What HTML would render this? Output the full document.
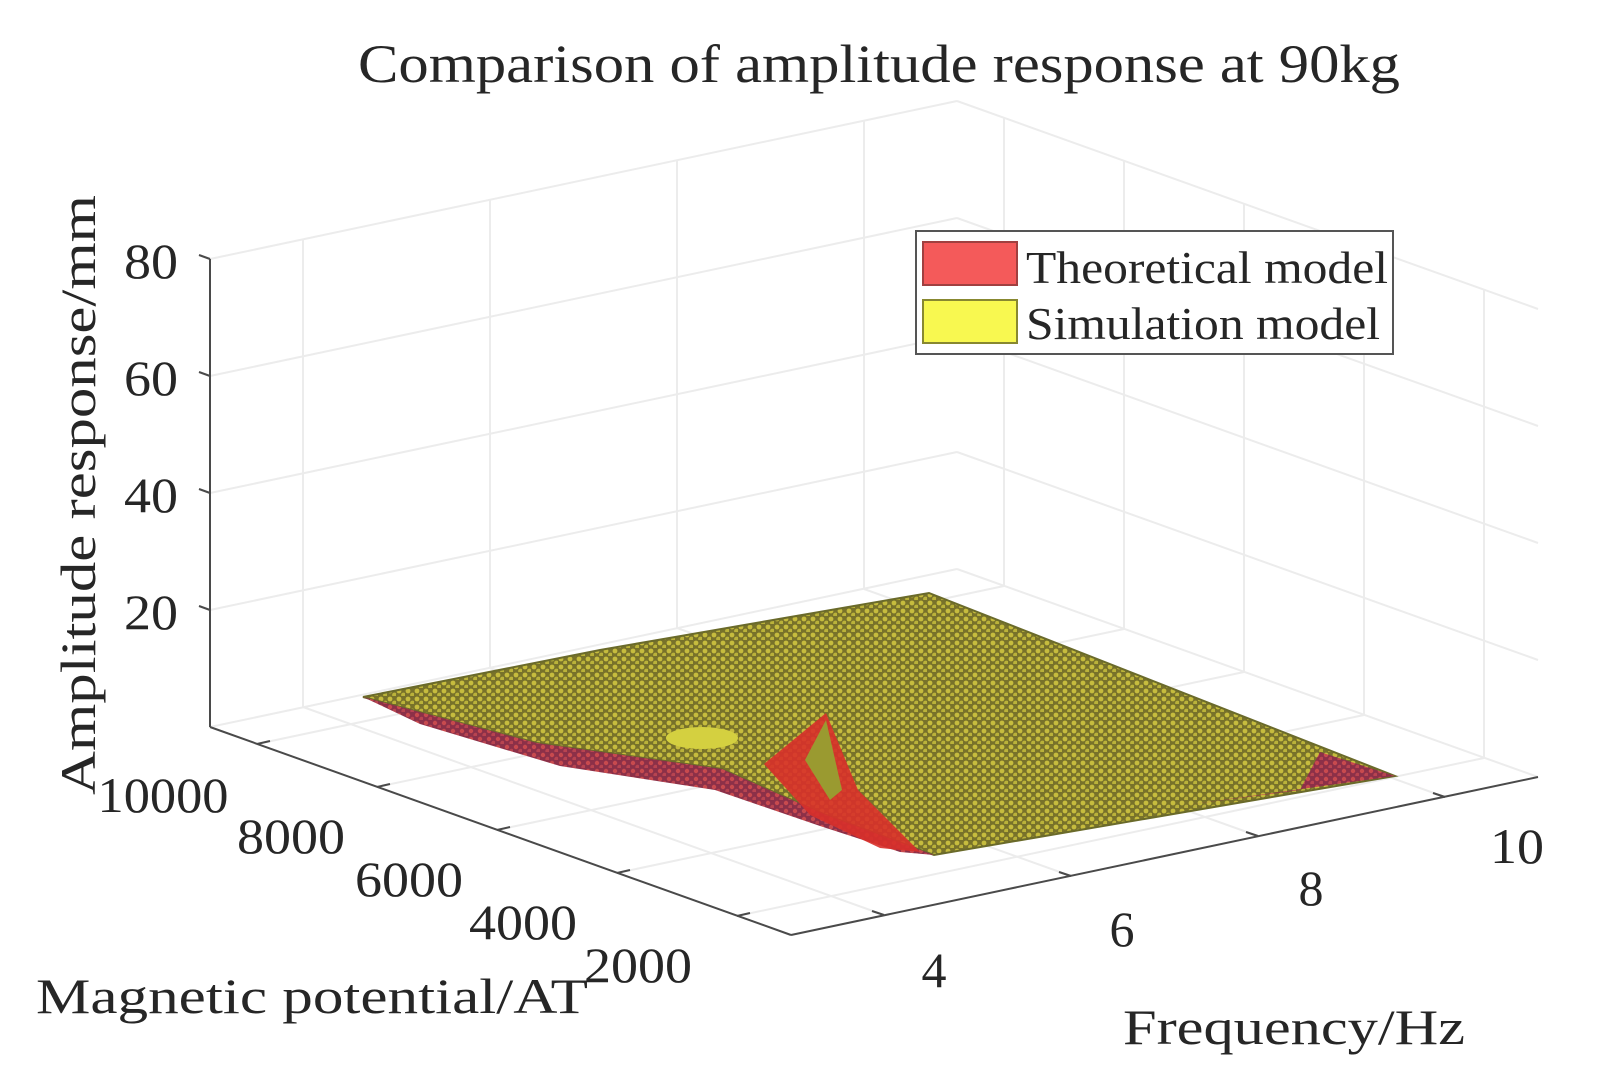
<!DOCTYPE html>
<html><head><meta charset="utf-8"><style>
html,body{margin:0;padding:0;background:#fff;}
svg{display:block;}
text{font-family:"Liberation Serif",serif;fill:#262626;}
</style></head><body>
<svg width="1610" height="1092" viewBox="0 0 1610 1092" xmlns="http://www.w3.org/2000/svg">
<defs>
<pattern id="mesh" width="9" height="8" patternUnits="userSpaceOnUse">
<rect width="9" height="8" fill="#78722a"/>
<circle cx="3" cy="3" r="2.4" fill="#c6bc3e"/>
<circle cx="7.5" cy="7" r="2.4" fill="#bab23a"/>
</pattern>
<pattern id="meshr" width="9" height="8" patternUnits="userSpaceOnUse">
<rect width="9" height="8" fill="#8c3048"/>
<circle cx="3" cy="3" r="2.2" fill="#c84a4e"/>
<circle cx="7.5" cy="7" r="2.2" fill="#b84450"/>
</pattern>
</defs>
<rect width="1610" height="1092" fill="#fff"/>
<g stroke="#ececec" stroke-width="2" fill="none">
<line x1="884" y1="915" x2="303" y2="707"/><line x1="1071" y1="876" x2="490" y2="668"/>
<line x1="1258" y1="836" x2="677" y2="628"/><line x1="1445" y1="797" x2="864" y2="589"/>
<line x1="257" y1="744" x2="1004" y2="586"/><line x1="377" y1="787" x2="1124" y2="629"/>
<line x1="497" y1="830" x2="1244" y2="672"/><line x1="617" y1="873" x2="1364" y2="715"/>
<line x1="737" y1="916" x2="1484" y2="758"/>
<line x1="210" y1="727" x2="957" y2="569"/><line x1="957" y1="569" x2="1538" y2="777"/>
<line x1="303" y1="707" x2="303" y2="239"/><line x1="490" y1="668" x2="490" y2="200"/>
<line x1="677" y1="628" x2="677" y2="160"/><line x1="864" y1="589" x2="864" y2="121"/>
<line x1="210" y1="610" x2="957" y2="452"/><line x1="210" y1="493" x2="957" y2="335"/>
<line x1="210" y1="376" x2="957" y2="218"/><line x1="210" y1="259" x2="957" y2="101"/>
<line x1="1004" y1="586" x2="1004" y2="118"/><line x1="1124" y1="629" x2="1124" y2="161"/>
<line x1="1244" y1="672" x2="1244" y2="204"/><line x1="1364" y1="715" x2="1364" y2="247"/>
<line x1="1484" y1="758" x2="1484" y2="290"/>
<line x1="957" y1="452" x2="1538" y2="660"/><line x1="957" y1="335" x2="1538" y2="543"/>
<line x1="957" y1="218" x2="1538" y2="426"/><line x1="957" y1="101" x2="1538" y2="309"/>
</g>
<g stroke="#4a4a4a" stroke-width="2" fill="none">
<line x1="210" y1="727" x2="210" y2="259"/>
<line x1="210" y1="727" x2="791" y2="935"/>
<line x1="791" y1="935" x2="1538" y2="777"/>
<line x1="210" y1="610" x2="199" y2="606"/><line x1="210" y1="493" x2="199" y2="489"/>
<line x1="210" y1="376" x2="199" y2="372"/><line x1="210" y1="259" x2="199" y2="255"/>
<line x1="257" y1="744" x2="270" y2="741"/><line x1="377" y1="787" x2="390" y2="784"/>
<line x1="497" y1="830" x2="510" y2="827"/><line x1="617" y1="873" x2="630" y2="870"/>
<line x1="737" y1="916" x2="750" y2="913"/>
<line x1="884" y1="915" x2="872" y2="911"/><line x1="1071" y1="876" x2="1059" y2="872"/>
<line x1="1258" y1="836" x2="1246" y2="832"/><line x1="1445" y1="797" x2="1433" y2="793"/>
</g>
<path d="M363,697 L600,650 L929,593 L1395,776 L934,855 L826,815 L722,769 L537,743 Z" fill="url(#mesh)" stroke="#6a6a2a" stroke-width="2"/>
<path d="M363,697 L537,743 L722,769 L826,815 L934,855 L900,852 L820,826 L715,790 L560,766 L420,724 Z" fill="url(#meshr)"/>
<path d="M764,764 L826,713 L858,790 L920,852 L880,848 L810,815 Z" fill="#d8302a" opacity="0.9"/>
<path d="M805,760 L826,720 L842,790 L830,800 Z" fill="#9a9a30"/>
<path d="M1186,805 L1395,776 L1320,752 L1300,790 Z" fill="url(#meshr)"/>
<ellipse cx="702" cy="738" rx="36" ry="11" fill="#d4d040"/>
<rect x="916" y="231" width="477" height="123" fill="#fff" stroke="#555" stroke-width="2"/>
<rect x="923" y="242" width="94" height="43" fill="#f45a5a" stroke="#a04040" stroke-width="2"/>
<rect x="923" y="300" width="94" height="43" fill="#f8f850" stroke="#888830" stroke-width="2"/>
<text x="1026" y="283" font-size="46" textLength="362" lengthAdjust="spacingAndGlyphs">Theoretical model</text>
<text x="1026" y="339" font-size="46" textLength="354" lengthAdjust="spacingAndGlyphs">Simulation model</text>
<text x="879" y="82" font-size="54" text-anchor="middle" textLength="1042" lengthAdjust="spacingAndGlyphs">Comparison of amplitude response at 90kg</text>
<g font-size="50" text-anchor="end">
<text x="178" y="278" textLength="54" lengthAdjust="spacingAndGlyphs">80</text>
<text x="178" y="395" textLength="54" lengthAdjust="spacingAndGlyphs">60</text>
<text x="178" y="512" textLength="54" lengthAdjust="spacingAndGlyphs">40</text>
<text x="178" y="629" textLength="54" lengthAdjust="spacingAndGlyphs">20</text>
</g>
<text transform="translate(95,495) rotate(-90)" font-size="50" text-anchor="middle" textLength="600" lengthAdjust="spacingAndGlyphs">Amplitude response/mm</text>
<g font-size="50" text-anchor="middle">
<text x="163" y="812" textLength="131" lengthAdjust="spacingAndGlyphs">10000</text>
<text x="291" y="853" textLength="108" lengthAdjust="spacingAndGlyphs">8000</text>
<text x="409" y="896" textLength="108" lengthAdjust="spacingAndGlyphs">6000</text>
<text x="523" y="939" textLength="108" lengthAdjust="spacingAndGlyphs">4000</text>
<text x="638" y="982" textLength="108" lengthAdjust="spacingAndGlyphs">2000</text>
<text x="934" y="987">4</text><text x="1122" y="946">6</text>
<text x="1311" y="905">8</text><text x="1517" y="863" textLength="54" lengthAdjust="spacingAndGlyphs">10</text>
</g>
<text x="36" y="1013" font-size="50" textLength="552" lengthAdjust="spacingAndGlyphs">Magnetic potential/AT</text>
<text x="1123" y="1044" font-size="50" textLength="342" lengthAdjust="spacingAndGlyphs">Frequency/Hz</text>
</svg>
</body></html>
